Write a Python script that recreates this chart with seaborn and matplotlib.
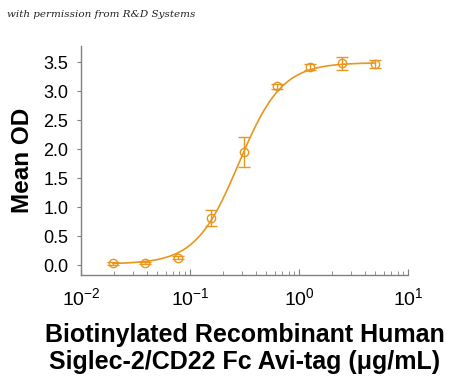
import numpy as np
import pandas as pd
import seaborn as sns
import matplotlib
matplotlib.use("Agg")
import matplotlib.pyplot as plt
from matplotlib.ticker import LogLocator, NullFormatter

# concentrations (ug/mL) and mean OD with error
conc = [0.0195, 0.039, 0.078, 0.156, 0.3125, 0.625, 1.25, 2.5, 5.0]
mean_od = [0.03, 0.04, 0.13, 0.81, 1.95, 3.08, 3.42, 3.48, 3.47]
err = [0.02, 0.02, 0.03, 0.14, 0.26, 0.04, 0.05, 0.11, 0.07]

# 4PL fit parameters
bottom, top, ec50, hill = 0.02, 3.49, 0.28, 2.2

x_ticks = [0.01, 0.1, 1, 10]
x_ticklabels = ["$10^{-2}$", "$10^{-1}$", "$10^{0}$", "$10^{1}$"]
y_ticks = [0.0, 0.5, 1.0, 1.5, 2.0, 2.5, 3.0, 3.5]

df = pd.DataFrame({"conc": conc, "od": mean_od, "err": err})

xs = np.logspace(np.log10(0.0195), np.log10(5.0), 300)
fit = pd.DataFrame({"conc": xs, "od": bottom + (top - bottom) / (1 + (ec50 / xs) ** hill)})

color = "#E8961E"
sns.set_style("white")
plt.rcParams["font.family"] = ["Liberation Sans", "DejaVu Sans"]
plt.rcParams["mathtext.default"] = "regular"
plt.rcParams["text.color"] = "black"
plt.rcParams["axes.labelcolor"] = "black"
plt.rcParams["xtick.labelcolor"] = "black"
plt.rcParams["ytick.labelcolor"] = "black"

fig = plt.figure(figsize=(4.5, 3.82), dpi=100)
ax = fig.add_axes([0.18, 0.28, 0.727, 0.60])

sns.lineplot(data=fit, x="conc", y="od", color=color, lw=1.2, ax=ax)
ax.errorbar(df["conc"], df["od"], yerr=df["err"], fmt="o", mfc="none", mec=color,
            ecolor=color, color=color, ms=6, mew=1.0, capsize=4, elinewidth=1.0)

ax.set_xscale("log")
ax.set_xlim(0.01, 10)
ax.set_ylim(-0.17, 3.78)
ax.set_xticks(x_ticks)
ax.set_xticklabels(x_ticklabels)
ax.set_yticks(y_ticks)
ax.set_yticklabels([f"{v:.1f}" for v in y_ticks])
ax.xaxis.set_minor_locator(LogLocator(base=10, subs=np.arange(2, 10) * 1.0))
ax.xaxis.set_minor_formatter(NullFormatter())

for s in ["top", "right"]:
    ax.spines[s].set_visible(False)
for s in ["left", "bottom"]:
    ax.spines[s].set_color("#808080")
    ax.spines[s].set_linewidth(1.0)

ax.tick_params(axis="y", which="both", left=True, direction="out", length=3,
               color="#808080", labelsize=13, pad=6)
ax.tick_params(axis="x", which="major", bottom=True, direction="in", length=4,
               color="#808080", labelsize=14, pad=9)
ax.tick_params(axis="x", which="minor", bottom=True, direction="in", length=3,
               color="#808080")

ax.set_ylabel("Mean OD", fontsize=17.5, fontweight="bold", labelpad=7)
ax.set_xlabel("Biotinylated Recombinant Human\nSiglec-2/CD22 Fc Avi-tag (\u03bcg/mL)",
              fontsize=18, fontweight="bold", labelpad=10, linespacing=1.15)

fig.text(0.015, 0.955, "with permission from R&D Systems", fontsize=7.5,
         style="italic", family=["DejaVu Serif"], color="#222222")

fig.savefig("out.png", dpi=100)
